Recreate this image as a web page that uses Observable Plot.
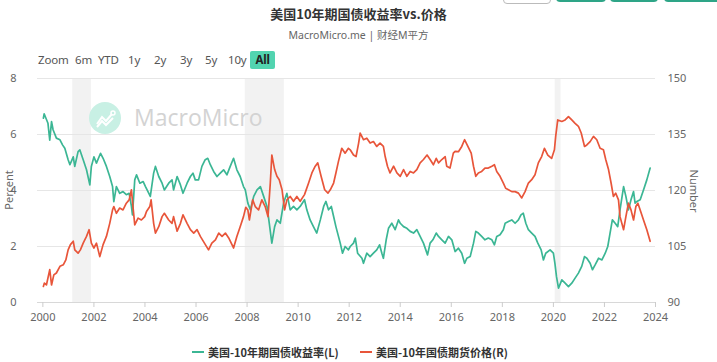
<!DOCTYPE html>
<html>
<head>
<meta charset="utf-8">
<script src="https://cdn.jsdelivr.net/npm/d3@7"></script>
<script src="https://cdn.jsdelivr.net/npm/@observablehq/plot@0.6"></script>
<style>
  html, body { margin: 0; padding: 0; background: #fff; }
  body { width: 717px; height: 362px; position: relative; overflow: hidden;
         font-family: "Noto Sans", "Noto Sans CJK SC", sans-serif; }
  .abs { position: absolute; white-space: nowrap; }
  #title { top: 5px; left: 0; width: 717px; text-align: center; font-size: 13px; font-weight: bold; color: #333; line-height: 18px; font-family: "Noto Sans CJK SC", sans-serif; }
  #subtitle { top: 27px; left: 0; width: 717px; text-align: center; font-size: 10.5px; color: #666; line-height: 16px; font-family: "Noto Sans", "Noto Sans CJK SC", sans-serif; }
  .rb { top: 52px; font-size: 11.5px; color: #555; line-height: 16px; letter-spacing: -0.2px; }
  #all { background: #52d4b0; color: #222; font-weight: bold; padding: 0 5px; border-radius: 2px; line-height: 18px; top: 51px; width: 15px; text-align: center; }
  .topbtn { top: -20px; height: 22px; border-radius: 4px; }
  #chart { position: absolute; top: 70px; left: 0; }
  .leg { top: 344px; font-size: 11px; font-weight: bold; color: #333; line-height: 16px; font-family: "Noto Sans CJK SC", sans-serif; }
  .sym { height: 2px; width: 12px; top: 351px; }
  #wm-text { left: 134px; top: 101px; font-size: 23px; color: #d3d3d3; line-height: 32px; font-family: "Open Sans", "Noto Sans", sans-serif; }
  .axt { font-size: 11px; color: #666; line-height: 14px; transform: translate(-50%, -50%); }
</style>
</head>
<body>
<div id="title" class="abs">美国10年期国债收益率vs.价格</div>
<div id="subtitle" class="abs">MacroMicro.me | 财经M平方</div>

<div class="abs topbtn" style="left:503px;width:46px;border:1px solid #bbb;background:#fff"></div>
<div class="abs topbtn" style="left:556px;width:50px;background:#2ea587"></div>
<div class="abs topbtn" style="left:610px;width:48px;background:#2ea587"></div>
<div class="abs topbtn" style="left:664px;width:60px;background:#2ea587"></div>

<div class="abs rb" style="left:38px">Zoom</div>
<div class="abs rb" style="left:75px">6m</div>
<div class="abs rb" style="left:98px">YTD</div>
<div class="abs rb" style="left:128px">1y</div>
<div class="abs rb" style="left:154px">2y</div>
<div class="abs rb" style="left:180px">3y</div>
<div class="abs rb" style="left:205px">5y</div>
<div class="abs rb" style="left:228px">10y</div>
<div class="abs rb" id="all" style="left:250px">All</div>

<div id="chart"></div>

<div class="abs" style="left:89px;top:102px;width:32px;height:32px;border-radius:50%;background:#c8f0e4"></div>
<svg class="abs" style="left:89px;top:102px" width="32" height="32">
  <polyline points="8,22 13,15 17,19 23,12" fill="none" stroke="#fff" stroke-width="2"/>
  <polyline points="8,25 13,19 17,23 24,16" fill="none" stroke="#fff" stroke-width="2"/>
  <circle cx="24" cy="11" r="2" fill="none" stroke="#fff" stroke-width="1.5"/>
</svg>
<div id="wm-text" class="abs">MacroMicro</div>

<div class="abs axt" style="left:9px;top:190px;transform:translate(-50%,-50%) rotate(-90deg)">Percent</div>
<div class="abs axt" style="left:694px;top:191px;transform:translate(-50%,-50%) rotate(90deg)">Number</div>

<div class="abs sym" style="left:192px;background:#3bb694"></div>
<div class="abs leg" style="left:208px">美国-10年期国债收益率(L)</div>
<div class="abs sym" style="left:360px;background:#e8553a"></div>
<div class="abs leg" style="left:376px">美国-10年国债期货价格(R)</div>

<script>
// ---- data ----
const yieldDates = [2000.02,2000.05,2000.2,2000.27,2000.34,2000.4,2000.53,2000.67,2000.77,2000.86,2000.99,2001.06,2001.19,2001.25,2001.38,2001.45,2001.58,2001.71,2001.84,2001.9,2002.0,2002.1,2002.26,2002.36,2002.49,2002.62,2002.73,2002.78,2002.88,2003.01,2003.14,2003.27,2003.38,2003.47,2003.51,2003.6,2003.67,2003.8,2003.93,2004.02,2004.21,2004.34,2004.41,2004.54,2004.67,2004.76,2004.93,2005.06,2005.12,2005.26,2005.39,2005.49,2005.65,2005.78,2005.88,2005.97,2006.1,2006.23,2006.36,2006.46,2006.56,2006.69,2006.82,2006.95,2007.08,2007.21,2007.34,2007.47,2007.6,2007.73,2007.86,2007.93,2008.03,2008.13,2008.26,2008.39,2008.52,2008.65,2008.78,2008.87,2008.97,2009.08,2009.17,2009.3,2009.43,2009.56,2009.69,2009.82,2009.95,2010.08,2010.25,2010.34,2010.47,2010.6,2010.73,2010.87,2011.0,2011.09,2011.19,2011.3,2011.39,2011.48,2011.65,2011.74,2011.84,2011.97,2012.04,2012.17,2012.24,2012.33,2012.5,2012.56,2012.69,2012.82,2012.95,2013.08,2013.19,2013.28,2013.34,2013.45,2013.54,2013.67,2013.8,2013.93,2014.0,2014.13,2014.26,2014.39,2014.52,2014.65,2014.78,2014.91,2015.07,2015.17,2015.28,2015.41,2015.5,2015.63,2015.76,2015.89,2016.02,2016.15,2016.28,2016.41,2016.52,2016.61,2016.74,2016.87,2016.96,2017.06,2017.19,2017.32,2017.45,2017.59,2017.69,2017.78,2017.91,2018.04,2018.11,2018.24,2018.37,2018.5,2018.63,2018.73,2018.82,2018.92,2019.02,2019.15,2019.28,2019.39,2019.52,2019.61,2019.7,2019.87,2020.0,2020.06,2020.12,2020.2,2020.33,2020.46,2020.59,2020.72,2020.85,2020.98,2021.11,2021.22,2021.31,2021.44,2021.53,2021.64,2021.77,2021.9,2022.03,2022.13,2022.22,2022.31,2022.42,2022.52,2022.61,2022.75,2022.84,2022.94,2023.04,2023.14,2023.2,2023.27,2023.4,2023.53,2023.66,2023.79];
const yieldValues = [6.58,6.74,6.4,5.8,6.46,6.17,5.87,5.81,5.63,5.51,5.1,4.92,5.2,4.86,5.39,5.45,5.1,4.74,4.2,4.86,5.2,4.98,5.33,5.15,4.86,4.5,4.14,3.6,4.14,3.9,3.96,3.85,3.9,3.43,3.13,4.38,4.56,4.26,4.32,4.14,3.79,4.62,4.86,4.5,4.26,4.02,4.26,4.38,4.02,4.5,4.2,3.9,4.26,4.5,4.62,4.38,4.38,4.86,5.1,5.15,4.92,4.68,4.5,4.62,4.74,4.56,4.86,5.15,4.74,4.5,4.14,4.02,3.55,3.31,3.79,4.02,4.14,3.79,3.43,2.83,2.12,2.71,2.95,2.83,3.55,3.9,3.31,3.43,3.31,3.43,3.67,3.31,2.95,2.71,2.48,2.95,3.43,3.61,3.31,3.43,3.07,2.71,2.12,1.76,2.0,1.88,2.0,2.12,2.3,1.76,1.58,1.4,1.76,1.64,1.76,1.88,2.06,1.76,1.58,2.24,2.65,2.83,2.6,2.95,2.83,2.71,2.65,2.54,2.48,2.6,2.36,2.12,1.7,2.12,2.24,2.48,2.36,2.24,2.12,2.36,2.24,1.82,1.94,1.76,1.4,1.58,1.64,2.12,2.54,2.48,2.36,2.24,2.3,2.24,2.06,2.36,2.42,2.6,2.83,2.89,2.95,2.83,2.95,3.13,3.19,2.83,2.6,2.48,2.36,2.12,1.88,1.52,1.76,1.88,1.76,1.4,0.93,0.51,0.81,0.69,0.57,0.69,0.87,1.05,1.29,1.64,1.58,1.4,1.17,1.35,1.58,1.52,1.76,2.0,2.48,2.95,2.83,2.71,3.31,4.14,3.79,3.31,3.67,3.96,3.55,3.61,3.67,4.02,4.38,4.8];

const priceDates = [2000.02,2000.06,2000.14,2000.27,2000.34,2000.43,2000.53,2000.67,2000.8,2000.9,2000.99,2001.08,2001.19,2001.25,2001.38,2001.47,2001.58,2001.71,2001.81,2001.9,2002.0,2002.1,2002.23,2002.36,2002.49,2002.62,2002.73,2002.78,2002.88,2003.01,2003.14,2003.27,2003.38,2003.47,2003.53,2003.6,2003.73,2003.86,2003.99,2004.06,2004.19,2004.24,2004.34,2004.41,2004.54,2004.67,2004.76,2004.93,2005.06,2005.12,2005.26,2005.39,2005.49,2005.65,2005.78,2005.91,2006.04,2006.17,2006.33,2006.49,2006.62,2006.76,2006.89,2007.02,2007.15,2007.28,2007.47,2007.6,2007.73,2007.86,2007.95,2008.03,2008.09,2008.22,2008.32,2008.45,2008.58,2008.71,2008.82,2008.91,2008.97,2009.08,2009.17,2009.26,2009.37,2009.47,2009.56,2009.69,2009.82,2009.95,2010.08,2010.25,2010.41,2010.54,2010.67,2010.77,2010.9,2011.04,2011.17,2011.26,2011.39,2011.48,2011.58,2011.71,2011.84,2011.97,2012.04,2012.17,2012.27,2012.37,2012.43,2012.56,2012.69,2012.82,2012.95,2013.08,2013.21,2013.34,2013.41,2013.5,2013.6,2013.74,2013.87,2014.0,2014.13,2014.26,2014.39,2014.52,2014.65,2014.78,2014.91,2015.05,2015.17,2015.3,2015.41,2015.5,2015.63,2015.76,2015.82,2015.95,2016.08,2016.15,2016.28,2016.41,2016.52,2016.65,2016.78,2016.87,2016.96,2017.06,2017.19,2017.32,2017.45,2017.59,2017.69,2017.78,2017.91,2018.04,2018.13,2018.24,2018.37,2018.5,2018.63,2018.76,2018.89,2019.02,2019.15,2019.28,2019.41,2019.54,2019.65,2019.78,2019.93,2020.04,2020.09,2020.17,2020.33,2020.46,2020.59,2020.72,2020.85,2020.98,2021.09,2021.22,2021.31,2021.44,2021.57,2021.7,2021.83,2021.96,2022.05,2022.16,2022.26,2022.35,2022.44,2022.55,2022.61,2022.75,2022.84,2022.94,2023.04,2023.14,2023.23,2023.31,2023.4,2023.53,2023.66,2023.79];
const priceValues = [94.3,95.2,94.7,98.8,94.7,97.4,97.9,99.7,100.1,101.4,104.1,105.5,106.4,104.1,103.2,104.1,105.9,107.7,109.5,105.9,104.6,105.9,102.3,105.5,107.7,111.2,114.8,115.7,113.9,115.3,114.8,116.6,117.5,120.2,115.7,110.8,112.6,112.1,113.0,114.4,115.7,117.5,111.2,108.6,110.3,113.0,113.9,112.1,111.2,113.0,109.1,111.2,113.5,111.2,109.5,108.6,109.5,107.7,105.9,104.1,105.9,106.8,108.6,107.7,108.6,107.3,104.6,107.7,110.3,113.0,115.5,114.8,112.1,117.5,115.7,114.8,117.5,115.7,113.0,122.0,129.5,125.6,123.8,122.9,120.2,114.8,117.5,118.4,117.1,118.4,117.1,118.9,122.0,124.7,126.5,127.4,123.8,120.2,119.3,120.2,122.0,124.7,127.8,131.3,130.0,131.3,130.9,129.5,129.1,132.7,135.4,133.6,134.0,132.7,133.1,131.8,132.7,131.8,129.1,126.5,124.7,126.5,124.7,123.8,125.6,123.8,125.1,124.7,125.6,127.4,128.3,129.5,128.3,126.9,128.6,127.4,128.3,129.1,126.5,126.0,130.0,130.5,130.4,131.8,133.6,131.8,130.0,126.5,123.8,124.7,125.1,126.0,126.0,126.5,126.9,125.1,123.8,122.0,120.6,120.2,119.7,119.7,119.3,118.0,119.7,122.0,122.9,124.2,127.4,129.1,131.3,129.5,128.6,130.9,134.5,138.9,138.5,138.9,139.8,138.9,138.0,137.2,135.4,131.8,132.2,133.1,134.5,133.6,131.3,130.9,128.3,125.6,122.0,118.4,119.3,117.5,113.0,109.5,113.0,116.6,114.8,112.1,115.7,116.6,114.8,112.1,109.5,106.4];

const recessionStart = [2001.17, 2007.93, 2020.07];
const recessionEnd   = [2001.9, 2009.46, 2020.3];

const xTicks = [2000,2002,2004,2006,2008,2010,2012,2014,2016,2018,2020,2022,2024];
const leftTicks = [0,2,4,6,8];
const rightTicks = [90,105,120,135,150];

const seriesNames = ["美国-10年期国债收益率(L)", "美国-10年国债期货价格(R)"];
const colors = ["#3bb694", "#e8553a"];

// ---- build ----
const rightMin = 90, rightMax = 150, leftMax = 8;
const toLeft = p => (p - rightMin) / (rightMax - rightMin) * leftMax;

const yieldData = yieldDates.map((d, i) => ({date: d, value: yieldValues[i]}));
const priceData = priceDates.map((d, i) => ({date: d, price: priceValues[i]}));
const recessions = recessionStart.map((s, i) => ({start: s, end: recessionEnd[i]}));

const chart = Plot.plot({
  width: 717,
  height: 262,
  marginLeft: 37,
  marginRight: 62,
  marginTop: 8,
  marginBottom: 30,
  style: {fontFamily: "'Noto Sans', sans-serif", fontSize: "11px", color: "#666", background: "transparent"},
  x: {type: "linear", domain: [1999.79, 2024]},
  y: {domain: [0, 8]},
  marks: [
    Plot.rect(recessions, {x1: "start", x2: "end", fill: "#f2f2f2"}),
    Plot.gridY(leftTicks, {stroke: "#e6e6e6", strokeOpacity: 1}),
    Plot.ruleY([0], {stroke: "#d8d8d8"}),
    Plot.axisX({ticks: xTicks, tickFormat: d => String(d), tickSize: 5, tickPadding: 6, stroke: "#ccc", fill: "#666", label: null}),
    Plot.axisY({anchor: "left", ticks: leftTicks, tickSize: 0, tickPadding: 21, fill: "#666", label: null}),
    Plot.axisY({anchor: "right", ticks: rightTicks.map(toLeft), tickFormat: d => String(Math.round(rightMin + d / leftMax * (rightMax - rightMin))), tickSize: 0, tickPadding: 12, fill: "#666", label: null}),
    Plot.line(yieldData, {x: "date", y: "value", stroke: colors[0], strokeWidth: 1.7}),
    Plot.line(priceData, {x: "date", y: d => toLeft(d.price), stroke: colors[1], strokeWidth: 1.7})
  ]
});
document.getElementById("chart").appendChild(chart);
</script>
</body>
</html>
